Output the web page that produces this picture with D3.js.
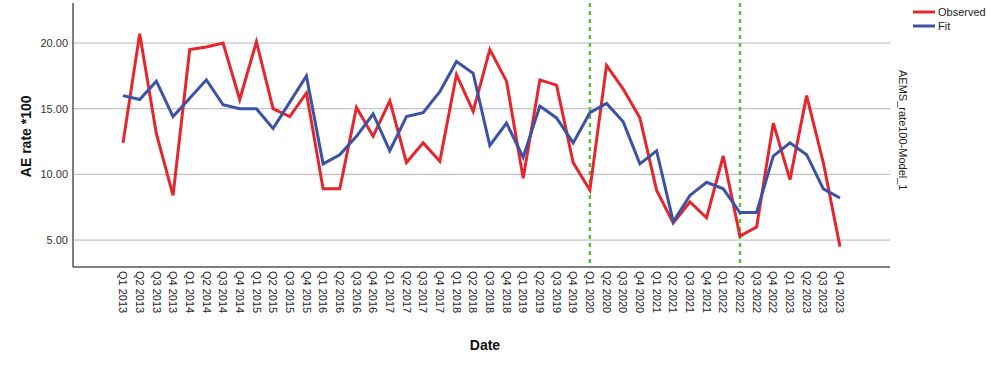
<!DOCTYPE html>
<html>
<head>
<meta charset="utf-8">
<script src="https://cdn.jsdelivr.net/npm/d3@7"></script>
<style>
    body { margin: 0; background: #fff; }
    text { font-family: Arial, "Liberation Sans", sans-serif; }
</style>
</head>
<body>
<div id="chart-area"></div>
<script>

// quarters shown on the x axis
let quarters = [];
[2013, 2014, 2015, 2016, 2017, 2018, 2019, 2020, 2021, 2022, 2023].forEach(y => {
    ["Q1", "Q2", "Q3", "Q4"].forEach(q => quarters.push(q + " " + y));
});

let observed = [12.4, 20.7, 13.1, 8.4, 19.5, 19.7, 20.0, 15.7, 20.1, 15.0, 14.4, 16.2,
    8.9, 8.9, 15.1, 12.9, 15.6, 10.9, 12.4, 11.0, 17.6, 14.8, 19.5, 17.1,
    9.7, 17.2, 16.8, 10.9, 8.8, 18.3, 16.5, 14.3, 8.8, 6.3, 7.9, 6.7,
    11.4, 5.3, 6.0, 13.9, 9.6, 16.0, 10.9, 4.5];

let fit = [16.0, 15.7, 17.1, 14.4, 15.8, 17.2, 15.3, 15.0, 15.0, 13.5, 15.5, 17.5,
    10.8, 11.5, 12.9, 14.6, 11.8, 14.4, 14.7, 16.3, 18.6, 17.7, 12.2, 13.9,
    11.3, 15.2, 14.3, 12.4, 14.7, 15.4, 14.0, 10.8, 11.8, 6.4, 8.4, 9.4,
    8.9, 7.1, 7.1, 11.4, 12.4, 11.5, 8.9, 8.2];

let yTicks = [5, 10, 15, 20];
let markers = ["Q1 2020", "Q2 2022"];

let series = [
    {name: "Observed", values: observed, color: "#e5262e"},
    {name: "Fit", values: fit, color: "#3b52a5"}
];

let margin = {top: 3, right: 110, bottom: 99, left: 73};
let width = 1000 - margin.left - margin.right;
let height = 366 - margin.top - margin.bottom;

let svg = d3.select("#chart-area").append("svg")
    .attr("width", 1000)
    .attr("height", 366)
    .append("g")
    .attr("transform", `translate(${margin.left}, ${margin.top})`);

// Scales
let x = d3.scalePoint()
    .domain(quarters)
    .range([0, width])
    .padding(3);

let y = d3.scaleLinear()
    .domain([2.95, 23.05])
    .range([height, 0]);

// gridlines
svg.selectAll(".grid")
    .data(yTicks)
    .enter().append("line")
    .attr("class", "grid")
    .attr("x1", 0)
    .attr("x2", width)
    .attr("y1", d => y(d))
    .attr("y2", d => y(d))
    .attr("stroke", "#b5b5b5")
    .attr("stroke-width", 1);

// y tick labels
svg.selectAll(".ylab")
    .data(yTicks)
    .enter().append("text")
    .attr("class", "ylab")
    .attr("x", -5)
    .attr("y", d => y(d))
    .attr("dy", "0.35em")
    .attr("text-anchor", "end")
    .attr("font-size", 11)
    .attr("fill", "#333")
    .text(d => d.toFixed(2));

// x tick labels, rotated
svg.selectAll(".xlab")
    .data(quarters)
    .enter().append("text")
    .attr("class", "xlab")
    .attr("transform", d => `translate(${x(d)}, ${height + 4}) rotate(90)`)
    .attr("dy", "0.35em")
    .attr("text-anchor", "start")
    .attr("font-size", 11)
    .attr("fill", "#222")
    .text(d => d);

// axis lines
svg.append("line")
    .attr("x1", 0).attr("x2", 0)
    .attr("y1", 0).attr("y2", height)
    .attr("stroke", "#555").attr("stroke-width", 1.5);
svg.append("line")
    .attr("x1", 0).attr("x2", width)
    .attr("y1", height).attr("y2", height)
    .attr("stroke", "#555").attr("stroke-width", 1.5);

// green reference lines
svg.selectAll(".marker")
    .data(markers)
    .enter().append("line")
    .attr("class", "marker")
    .attr("x1", d => x(d))
    .attr("x2", d => x(d))
    .attr("y1", 0)
    .attr("y2", height)
    .attr("stroke", "#5cbf3c")
    .attr("stroke-width", 2.5)
    .attr("stroke-dasharray", "4,4");

// series lines
let line = d3.line()
    .x((d, i) => x(quarters[i]))
    .y(d => y(d));

svg.selectAll(".series")
    .data(series)
    .enter().append("path")
    .attr("class", "series")
    .attr("d", d => line(d.values))
    .attr("fill", "none")
    .attr("stroke", d => d.color)
    .attr("stroke-width", 3)
    .attr("stroke-linejoin", "miter");

// axis titles
svg.append("text")
    .attr("transform", `translate(${-42}, ${y(12.9)}) rotate(-90)`)
    .attr("text-anchor", "middle")
    .attr("font-size", 14)
    .attr("font-weight", "bold")
    .attr("fill", "#111")
    .text("AE rate *100");

svg.append("text")
    .attr("x", 485 - margin.left)
    .attr("y", 350 - margin.top)
    .attr("text-anchor", "middle")
    .attr("font-size", 14)
    .attr("font-weight", "bold")
    .attr("fill", "#111")
    .text("Date");

// model label on the right
svg.append("text")
    .attr("transform", `translate(${width + 9}, ${70 - margin.top}) rotate(90)`)
    .attr("text-anchor", "start")
    .attr("font-size", 11)
    .attr("fill", "#222")
    .text("AEMS_rate100-Model_1");

// legend
let legend = svg.selectAll(".legend")
    .data(series)
    .enter().append("g")
    .attr("class", "legend")
    .attr("transform", (d, i) => `translate(${913 - margin.left}, ${12 + i * 14 - margin.top})`);

legend.append("line")
    .attr("x1", 0).attr("x2", 22)
    .attr("y1", 0).attr("y2", 0)
    .attr("stroke", d => d.color)
    .attr("stroke-width", 3);

legend.append("text")
    .attr("x", 25)
    .attr("dy", "0.38em")
    .attr("font-size", 11)
    .attr("fill", "#222")
    .text(d => d.name);

</script>
</body>
</html>
